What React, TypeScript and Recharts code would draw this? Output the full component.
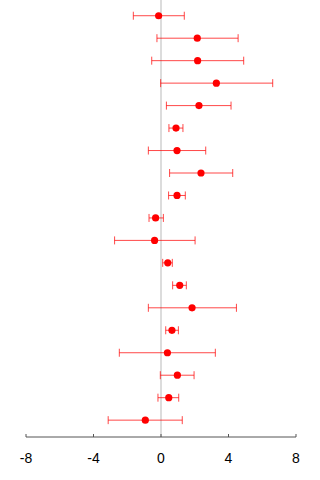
import React from "react";
import { ComposedChart, Scatter, ErrorBar, XAxis, YAxis, ReferenceLine } from "recharts";

// Study rows, top to bottom
const rows = [1, 2, 3, 4, 5, 6, 7, 8, 9, 10, 11, 12, 13, 14, 15, 16, 17, 18, 19];
const estimates = [-0.14, 2.15, 2.17, 3.28, 2.25, 0.89, 0.95, 2.37, 0.95, -0.32, -0.38, 0.4, 1.11, 1.84, 0.65, 0.38, 0.97, 0.46, -0.93];
const lowers = [-1.64, -0.24, -0.55, -0.02, 0.32, 0.47, -0.75, 0.51, 0.45, -0.71, -2.75, 0.1, 0.69, -0.75, 0.28, -2.47, -0.04, -0.18, -3.13];
const uppers = [1.38, 4.57, 4.9, 6.62, 4.15, 1.3, 2.65, 4.25, 1.44, 0.14, 2.02, 0.67, 1.5, 4.47, 1.03, 3.22, 1.96, 1.05, 1.26];
const xTicks = [-8, -4, 0, 4, 8];

const data = rows.map((row, i) => ({
  row,
  est: estimates[i],
  err: [estimates[i] - lowers[i], uppers[i] - estimates[i]],
}));

const Dot = (props: any) => <circle cx={props.cx} cy={props.cy} r={3.6} fill="#ff0000" />;

const Tick = (props: any) => {
  const { x, y, payload } = props;
  return (
    <g>
      <line x1={x} x2={x} y1={y - 3} y2={y} stroke="#555" strokeWidth={1} />
      <text x={x} y={y + 26} textAnchor="middle" fontSize={14} fill="#000" fontFamily="'Liberation Sans', Arial, sans-serif">
        {payload.value}
      </text>
    </g>
  );
};

export default function App() {
  return (
    <div style={{ position: "absolute", left: 0, top: 0, width: 320, height: 480, background: "#fff" }}>
      <ComposedChart width={320} height={480} data={data} margin={{ top: 0, right: 24, left: 26, bottom: 0 }}>
        <XAxis
          type="number"
          dataKey="est"
          domain={[-8, 8]}
          ticks={xTicks}
          height={43}
          tickLine={false}
          tickSize={0}
          tickMargin={0}
          axisLine={{ stroke: "#555", strokeWidth: 1 }}
          tick={<Tick />}
        />
        <YAxis type="number" dataKey="row" domain={[0.3, 19.75]} reversed hide />
        <ReferenceLine x={0} stroke="#dcdcdc" strokeWidth={2} />
        <Scatter data={data} dataKey="row" shape={<Dot />} isAnimationActive={false}>
          <ErrorBar dataKey="err" direction="x" width={4} stroke="#ff0000" strokeOpacity={0.72} strokeWidth={1} isAnimationActive={false} />
        </Scatter>
      </ComposedChart>
    </div>
  );
}
